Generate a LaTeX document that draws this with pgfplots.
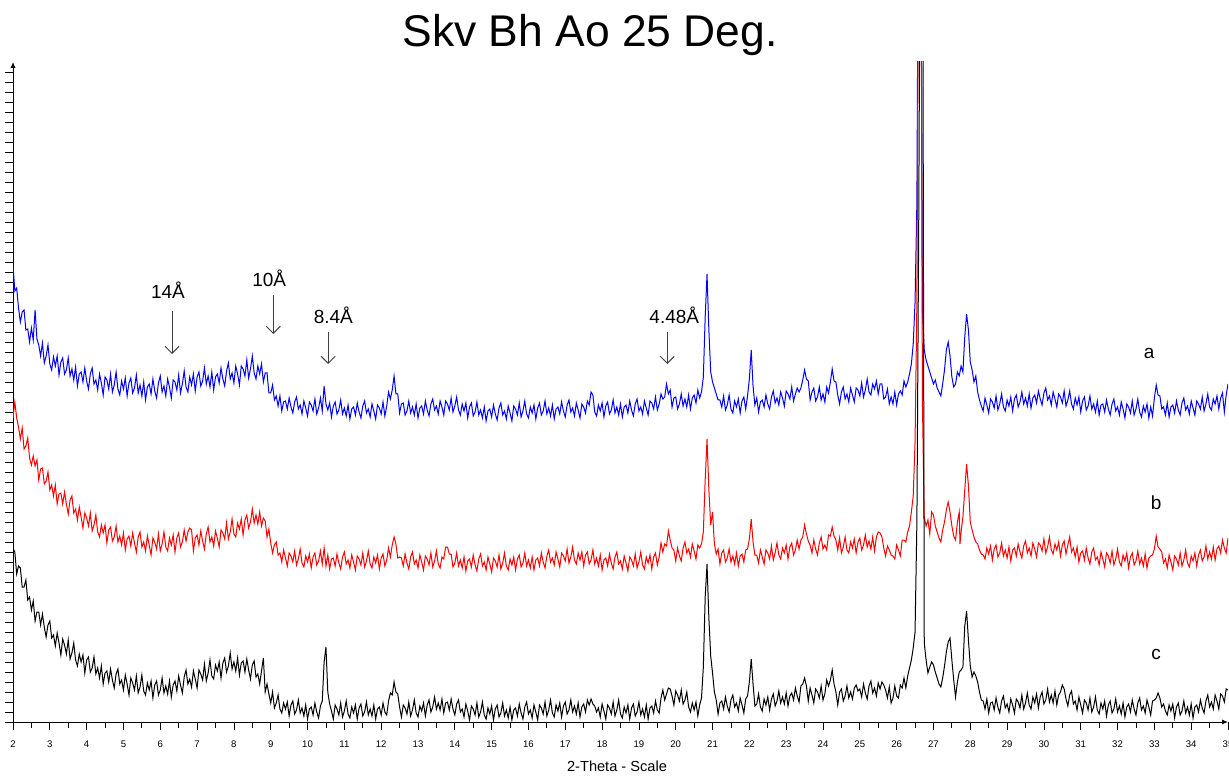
\documentclass[border=0pt]{standalone}
\usepackage{pgfplots}
\pgfplotsset{compat=1.18}
\usepackage{pgfplotstable}
\usepackage{fontspec}
\setmainfont{Liberation Sans}
\usetikzlibrary{arrows.meta}

\pgfplotstableread{
x y
2.00 457
2.05 431
2.10 434
2.15 414
2.20 400
2.25 410
2.30 412
2.35 392
2.40 393
2.45 380
2.50 394
2.55 382
2.60 412
2.65 383
2.70 377
2.75 366
2.80 379
2.85 359
2.90 366
2.95 377
3.00 358
3.05 352
3.10 365
3.15 356
3.20 366
3.25 347
3.30 360
3.35 364
3.40 348
3.45 352
3.50 364
3.55 346
3.60 353
3.65 342
3.70 355
3.75 336
3.80 348
3.85 350
3.90 340
3.95 354
4.00 341
4.05 333
4.10 348
4.15 354
4.20 338
4.25 342
4.30 332
4.35 348
4.40 339
4.45 327
4.50 345
4.55 342
4.60 333
4.65 348
4.70 330
4.75 337
4.80 350
4.85 333
4.90 327
4.95 341
5.00 333
5.05 344
5.10 326
5.15 339
5.20 344
5.25 329
5.30 334
5.35 347
5.40 329
5.45 337
5.50 326
5.55 340
5.60 322
5.65 335
5.70 338
5.75 328
5.80 343
5.85 331
5.90 324
5.95 339
6.00 346
6.05 330
6.10 336
6.15 326
6.20 343
6.25 335
6.30 324
6.35 342
6.40 340
6.45 332
6.50 347
6.55 329
6.60 338
6.65 351
6.70 335
6.75 330
6.80 345
6.85 337
6.90 348
6.95 331
7.00 345
7.05 350
7.10 336
7.15 341
7.20 354
7.25 338
7.30 346
7.35 335
7.40 350
7.45 332
7.50 345
7.55 348
7.60 339
7.65 354
7.70 343
7.75 336
7.80 351
7.85 359
7.90 343
7.95 349
8.00 339
8.05 356
8.10 348
8.15 337
8.20 356
8.25 353
8.30 346
8.35 362
8.40 344
8.45 353
8.50 366
8.55 349
8.60 343
8.65 356
8.70 348
8.75 358
8.80 340
8.85 349
8.90 349
8.95 329
9.00 329
9.05 337
9.10 322
9.15 326
9.20 316
9.25 326
9.30 311
9.35 320
9.40 321
9.45 313
9.50 324
9.55 315
9.60 309
9.65 320
9.70 325
9.75 313
9.80 317
9.85 308
9.90 321
9.95 314
10.00 306
10.05 320
10.10 317
10.15 311
10.20 323
10.25 308
10.30 314
10.35 324
10.40 311
10.45 336
10.50 318
10.55 312
10.60 319
10.65 305
10.70 316
10.75 320
10.80 308
10.85 312
10.90 322
10.95 308
11.00 314
11.05 306
11.10 317
11.15 303
11.20 313
11.25 315
11.30 307
11.35 319
11.40 310
11.45 304
11.50 316
11.55 321
11.60 309
11.65 313
11.70 305
11.75 318
11.80 311
11.85 303
11.90 317
11.95 314
12.00 308
12.05 320
12.10 306
12.15 316
12.20 330
12.25 323
12.30 332
12.35 346
12.40 328
12.45 328
12.50 309
12.55 318
12.60 319
12.65 307
12.70 311
12.75 321
12.80 309
12.85 315
12.90 307
12.95 318
13.00 304
13.05 314
13.10 316
13.15 308
13.20 321
13.25 312
13.30 306
13.35 318
13.40 323
13.45 312
13.50 316
13.55 308
13.60 321
13.65 315
13.70 307
13.75 321
13.80 318
13.85 312
13.90 324
13.95 310
14.00 316
14.05 325
14.10 312
14.15 307
14.20 318
14.25 311
14.30 319
14.35 304
14.40 315
14.45 319
14.50 306
14.55 310
14.60 320
14.65 307
14.70 312
14.75 304
14.80 315
14.85 301
14.90 311
14.95 313
15.00 305
15.05 317
15.10 308
15.15 302
15.20 314
15.25 319
15.30 307
15.35 311
15.40 303
15.45 316
15.50 309
15.55 301
15.60 316
15.65 313
15.70 307
15.75 319
15.80 305
15.85 311
15.90 321
15.95 308
16.00 304
16.05 315
16.10 309
16.15 317
16.20 303
16.25 314
16.30 319
16.35 307
16.40 311
16.45 321
16.50 308
16.55 314
16.60 306
16.65 317
16.70 303
16.75 313
16.80 315
16.85 308
16.90 320
16.95 311
17.00 305
17.05 317
17.10 322
17.15 310
17.20 314
17.25 306
17.30 319
17.35 312
17.40 304
17.45 318
17.50 315
17.55 309
17.60 321
17.65 317
17.70 330
17.75 327
17.80 310
17.85 306
17.90 317
17.95 311
18.00 319
18.05 305
18.10 316
18.15 320
18.20 308
18.25 312
18.30 322
18.35 309
18.40 315
18.45 307
18.50 318
18.55 305
18.60 315
18.65 317
18.70 309
18.75 321
18.80 312
18.85 306
18.90 318
18.95 323
19.00 311
19.05 315
19.10 308
19.15 321
19.20 314
19.25 307
19.30 321
19.35 319
19.40 313
19.45 325
19.50 312
19.55 318
19.60 328
19.65 323
19.70 325
19.75 338
19.80 328
19.85 332
19.90 315
19.95 324
20.00 325
20.05 313
20.10 318
20.15 328
20.20 316
20.25 323
20.30 315
20.35 327
20.40 313
20.45 324
20.50 327
20.55 319
20.60 332
20.65 324
20.70 330
20.75 345
20.80 405
20.85 448
20.90 392
20.95 350
21.00 340
21.05 334
21.10 328
21.15 322
21.20 322
21.25 315
21.30 326
21.35 312
21.40 317
21.45 327
21.50 313
21.55 309
21.60 321
21.65 315
21.70 323
21.75 309
21.80 321
21.85 325
21.90 313
21.95 326
22.00 343
22.05 372
22.10 336
22.15 317
22.20 324
22.25 310
22.30 320
22.35 322
22.40 315
22.45 327
22.50 318
22.55 313
22.60 325
22.65 331
22.70 319
22.75 324
22.80 317
22.85 330
22.90 324
22.95 316
23.00 331
23.05 328
23.10 323
23.15 335
23.20 321
23.25 328
23.30 334
23.35 330
23.40 334
23.45 342
23.50 352
23.55 343
23.60 341
23.65 322
23.70 330
23.75 334
23.80 321
23.85 325
23.90 335
23.95 322
24.00 328
24.05 320
24.10 335
24.15 329
24.20 340
24.25 353
24.30 341
24.35 340
24.40 327
24.45 318
24.50 330
24.55 335
24.60 323
24.65 328
24.70 320
24.75 334
24.80 327
24.85 320
24.90 334
24.95 332
25.00 326
25.05 339
25.10 325
25.15 332
25.20 343
25.25 330
25.30 327
25.35 338
25.40 333
25.45 341
25.50 328
25.55 338
25.60 338
25.65 323
25.70 325
25.75 333
25.80 318
25.85 325
25.90 318
25.95 330
26.00 317
26.05 328
26.10 331
26.15 327
26.20 341
26.25 335
26.30 340
26.35 348
26.40 358
26.45 378
26.50 420
26.55 520
26.60 900
26.65 900
26.70 410
26.75 372
26.80 362
26.85 356
26.90 350
26.95 344
27.00 338
27.05 342
27.10 334
27.15 330
27.20 326
27.25 338
27.30 352
27.35 372
27.40 380
27.45 366
27.50 345
27.55 335
27.60 338
27.65 350
27.70 346
27.75 356
27.80 350
27.85 385
27.90 408
27.95 392
28.00 360
28.05 352
28.10 340
28.15 346
28.20 330
28.25 322
28.30 316
28.35 311
28.40 324
28.45 317
28.50 309
28.55 323
28.60 320
28.65 314
28.70 326
28.75 312
28.80 318
28.85 328
28.90 315
28.95 311
29.00 322
29.05 316
29.10 325
29.15 311
29.20 323
29.25 327
29.30 315
29.35 320
29.40 330
29.45 318
29.50 324
29.55 316
29.60 328
29.65 314
29.70 324
29.75 327
29.80 319
29.85 331
29.90 323
29.95 317
30.00 329
30.05 334
30.10 322
30.15 326
30.20 317
30.25 330
30.30 323
30.35 315
30.40 328
30.45 325
30.50 319
30.55 331
30.60 316
30.65 322
30.70 331
30.75 318
30.80 313
30.85 324
30.90 317
30.95 325
31.00 310
31.05 321
31.10 325
31.15 312
31.20 316
31.25 326
31.30 313
31.35 318
31.40 310
31.45 321
31.50 307
31.55 317
31.60 318
31.65 310
31.70 322
31.75 313
31.80 307
31.85 318
31.90 323
31.95 311
32.00 315
32.05 307
32.10 320
32.15 313
32.20 304
32.25 318
32.30 315
32.35 309
32.40 321
32.45 307
32.50 313
32.55 323
32.60 310
32.65 305
32.70 316
32.75 310
32.80 318
32.85 304
32.90 315
32.95 306
33.00 324
33.05 337
33.10 327
33.15 326
33.20 313
33.25 315
33.30 307
33.35 319
33.40 305
33.45 315
33.50 317
33.55 309
33.60 321
33.65 312
33.70 307
33.75 319
33.80 324
33.85 312
33.90 316
33.95 308
34.00 321
34.05 314
34.10 307
34.15 321
34.20 318
34.25 313
34.30 325
34.35 311
34.40 318
34.45 328
34.50 315
34.55 312
34.60 323
34.65 318
34.70 326
34.75 313
34.80 324
34.85 329
34.90 310
34.95 327
35.00 338
}\tblA

\pgfplotstableread{
x y
2.00 304
2.05 320
2.10 304
2.15 295
2.20 283
2.25 294
2.30 273
2.35 276
2.40 284
2.45 264
2.50 257
2.55 266
2.60 256
2.65 262
2.70 242
2.75 253
2.80 254
2.85 238
2.90 241
2.95 250
3.00 232
3.05 237
3.10 226
3.15 237
3.20 218
3.25 228
3.30 229
3.35 218
3.40 230
3.45 218
3.50 208
3.55 222
3.60 226
3.65 209
3.70 213
3.75 202
3.80 215
3.85 205
3.90 194
3.95 209
4.00 204
4.05 196
4.10 209
4.15 191
4.20 197
4.25 207
4.30 190
4.35 185
4.40 197
4.45 189
4.50 197
4.55 179
4.60 192
4.65 195
4.70 181
4.75 185
4.80 196
4.85 180
4.90 186
4.95 177
5.00 189
5.05 172
5.10 183
5.15 186
5.20 176
5.25 189
5.30 179
5.35 170
5.40 185
5.45 190
5.50 175
5.55 180
5.60 171
5.65 186
5.70 177
5.75 167
5.80 184
5.85 180
5.90 173
5.95 188
6.00 171
6.05 178
6.10 190
6.15 175
6.20 171
6.25 184
6.30 177
6.35 187
6.40 170
6.45 184
6.50 189
6.55 175
6.60 180
6.65 192
6.70 181
6.75 190
6.80 194
6.85 192
6.90 171
6.95 184
7.00 187
7.05 177
7.10 191
7.15 181
7.20 173
7.25 188
7.30 195
7.35 180
7.40 185
7.45 176
7.50 191
7.55 184
7.60 175
7.65 192
7.70 189
7.75 183
7.80 199
7.85 183
7.90 190
7.95 203
8.00 188
8.05 185
8.10 199
8.15 193
8.20 203
8.25 187
8.30 202
8.35 207
8.40 194
8.45 200
8.50 213
8.55 199
8.60 207
8.65 198
8.70 210
8.75 196
8.80 204
8.85 201
8.90 185
8.95 193
9.00 179
9.05 169
9.10 177
9.15 180
9.20 167
9.25 169
9.30 160
9.35 172
9.40 164
9.45 156
9.50 169
9.55 166
9.60 160
9.65 171
9.70 157
9.75 163
9.80 173
9.85 159
9.90 155
9.95 166
10.00 160
10.05 168
10.10 154
10.15 165
10.20 169
10.25 157
10.30 161
10.35 171
10.40 158
10.45 174
10.50 156
10.55 167
10.60 153
10.65 163
10.70 164
10.75 156
10.80 168
10.85 159
10.90 153
10.95 165
11.00 170
11.05 158
11.10 162
11.15 154
11.20 167
11.25 160
11.30 152
11.35 166
11.40 163
11.45 157
11.50 169
11.55 155
11.60 161
11.65 171
11.70 158
11.75 154
11.80 165
11.85 159
11.90 167
11.95 153
12.00 164
12.05 168
12.10 156
12.15 162
12.20 174
12.25 165
12.30 177
12.35 185
12.40 178
12.45 164
12.50 165
12.55 164
12.60 156
12.65 168
12.70 159
12.75 153
12.80 165
12.85 170
12.90 158
12.95 162
13.00 154
13.05 167
13.10 160
13.15 152
13.20 166
13.25 163
13.30 157
13.35 169
13.40 155
13.45 161
13.50 171
13.55 158
13.60 154
13.65 165
13.70 163
13.75 175
13.80 175
13.85 168
13.90 168
13.95 155
14.00 159
14.05 169
14.10 156
14.15 162
14.20 154
14.25 165
14.30 151
14.35 161
14.40 163
14.45 155
14.50 167
14.55 157
14.60 151
14.65 163
14.70 168
14.75 156
14.80 160
14.85 152
14.90 165
14.95 158
15.00 150
15.05 164
15.10 161
15.15 155
15.20 167
15.25 153
15.30 159
15.35 169
15.40 156
15.45 152
15.50 163
15.55 157
15.60 165
15.65 152
15.70 163
15.75 167
15.80 155
15.85 159
15.90 169
15.95 156
16.00 162
16.05 154
16.10 165
16.15 152
16.20 162
16.25 164
16.30 156
16.35 169
16.40 160
16.45 154
16.50 166
16.55 172
16.60 160
16.65 164
16.70 157
16.75 170
16.80 163
16.85 155
16.90 169
16.95 166
17.00 161
17.05 173
17.10 159
17.15 165
17.20 175
17.25 162
17.30 158
17.35 169
17.40 162
17.45 170
17.50 156
17.55 167
17.60 170
17.65 158
17.70 162
17.75 172
17.80 158
17.85 164
17.90 156
17.95 167
18.00 152
18.05 162
18.10 164
18.15 156
18.20 168
18.25 159
18.30 153
18.35 165
18.40 170
18.45 158
18.50 161
18.55 153
18.60 166
18.65 159
18.70 151
18.75 165
18.80 162
18.85 156
18.90 168
18.95 154
19.00 160
19.05 170
19.10 157
19.15 153
19.20 165
19.25 159
19.30 167
19.35 153
19.40 165
19.45 169
19.50 157
19.55 165
19.60 179
19.65 170
19.70 178
19.75 176
19.80 191
19.85 182
19.90 174
19.95 172
20.00 161
20.05 174
20.10 166
20.15 161
20.20 174
20.25 180
20.30 169
20.35 173
20.40 165
20.45 178
20.50 171
20.55 163
20.60 177
20.65 174
20.70 178
20.75 190
20.80 242
20.85 283
20.90 232
20.95 197
21.00 210
21.05 178
21.10 168
21.15 173
21.20 158
21.25 169
21.30 172
21.35 160
21.40 164
21.45 173
21.50 160
21.55 166
21.60 158
21.65 169
21.70 156
21.75 166
21.80 168
21.85 160
21.90 172
21.95 173
22.00 183
22.05 203
22.10 180
22.15 167
22.20 167
22.25 159
22.30 172
22.35 165
22.40 158
22.45 172
22.50 169
22.55 163
22.60 176
22.65 162
22.70 169
22.75 179
22.80 167
22.85 163
22.90 174
22.95 169
23.00 177
23.05 163
23.10 175
23.15 179
23.20 167
23.25 172
23.30 182
23.35 173
23.40 182
23.45 185
23.50 197
23.55 188
23.60 181
23.65 177
23.70 169
23.75 182
23.80 173
23.85 167
23.90 179
23.95 185
24.00 173
24.05 177
24.10 172
24.15 187
24.20 186
24.25 195
24.30 186
24.35 182
24.40 172
24.45 184
24.50 169
24.55 175
24.60 185
24.65 172
24.70 169
24.75 180
24.80 174
24.85 183
24.90 169
24.95 180
25.00 184
25.05 172
25.10 177
25.15 187
25.20 175
25.25 181
25.30 173
25.35 185
25.40 171
25.45 185
25.50 190
25.55 189
25.60 185
25.65 174
25.70 166
25.75 176
25.80 172
25.85 167
25.90 166
25.95 163
26.00 177
26.05 172
26.10 166
26.15 182
26.20 182
26.25 180
26.30 190
26.35 196
26.40 210
26.45 226
26.50 280
26.55 420
26.60 850
26.65 950
26.70 320
26.75 205
26.80 196
26.85 202
26.90 188
26.95 210
27.00 207
27.05 196
27.10 190
27.15 184
27.20 180
27.25 192
27.30 200
27.35 212
27.40 220
27.45 210
27.50 196
27.55 186
27.60 182
27.65 200
27.70 210
27.72 178
27.75 190
27.80 205
27.85 232
27.90 258
27.95 236
28.00 200
28.05 192
28.10 185
28.15 180
28.20 178
28.25 172
28.30 168
28.35 167
28.40 163
28.45 174
28.50 168
28.55 176
28.60 162
28.65 173
28.70 177
28.75 165
28.80 169
28.85 179
28.90 166
28.95 172
29.00 164
29.05 175
29.10 161
29.15 172
29.20 174
29.25 166
29.30 178
29.35 170
29.40 164
29.45 176
29.50 181
29.55 169
29.60 174
29.65 166
29.70 179
29.75 173
29.80 165
29.85 179
29.90 177
29.95 171
30.00 183
30.05 169
30.10 175
30.15 185
30.20 172
30.25 168
30.30 178
30.35 172
30.40 180
30.45 166
30.50 177
30.55 181
30.60 168
30.65 177
30.70 185
30.75 170
30.80 174
30.85 165
30.90 175
30.95 160
31.00 169
31.05 171
31.10 162
31.15 174
31.20 164
31.25 158
31.30 170
31.35 174
31.40 162
31.45 165
31.50 157
31.55 170
31.60 163
31.65 155
31.70 169
31.75 166
31.80 159
31.85 171
31.90 157
31.95 163
32.00 173
32.05 160
32.10 156
32.15 167
32.20 161
32.25 169
32.30 154
32.35 165
32.40 169
32.45 157
32.50 161
32.55 171
32.60 158
32.65 164
32.70 156
32.75 168
32.80 154
32.85 164
32.90 166
32.95 167
33.00 173
33.05 186
33.10 175
33.15 173
33.20 170
33.25 159
33.30 163
33.35 154
33.40 167
33.45 160
33.50 152
33.55 166
33.60 163
33.65 157
33.70 169
33.75 156
33.80 162
33.85 172
33.90 159
33.95 155
34.00 166
34.05 161
34.10 169
34.15 156
34.20 167
34.25 172
34.30 161
34.35 165
34.40 176
34.45 163
34.50 170
34.55 163
34.60 175
34.65 162
34.70 173
34.75 176
34.80 169
34.85 182
34.90 174
34.95 169
35.00 184
}\tblB

\pgfplotstableread{
x y
2.00 174
2.05 170
2.10 148
2.15 156
2.20 154
2.25 135
2.30 135
2.35 142
2.40 122
2.45 125
2.50 112
2.55 121
2.60 101
2.65 110
2.70 110
2.75 97
2.80 108
2.85 95
2.90 85
2.95 97
3.00 101
3.05 84
3.10 87
3.15 76
3.20 89
3.25 79
3.30 67
3.35 83
3.40 77
3.45 68
3.50 82
3.55 63
3.60 69
3.65 79
3.70 62
3.75 56
3.80 68
3.85 60
3.90 67
3.95 49
4.00 62
4.05 65
4.10 50
4.15 54
4.20 65
4.25 48
4.30 54
4.35 44
4.40 56
4.45 38
4.50 49
4.55 51
4.60 40
4.65 53
4.70 42
4.75 34
4.80 48
4.85 53
4.90 38
4.95 42
5.00 32
5.05 47
5.10 38
5.15 27
5.20 44
5.25 39
5.30 32
5.35 46
5.40 29
5.45 35
5.50 47
5.55 31
5.60 27
5.65 39
5.70 32
5.75 41
5.80 24
5.85 37
5.90 41
5.95 27
6.00 32
6.05 44
6.10 29
6.15 36
6.20 28
6.25 41
6.30 25
6.35 37
6.40 41
6.45 31
6.50 46
6.55 37
6.60 29
6.65 45
6.70 52
6.75 38
6.80 43
6.85 35
6.90 51
6.95 43
7.00 34
7.05 52
7.10 48
7.15 42
7.20 58
7.25 41
7.30 49
7.35 62
7.40 46
7.45 43
7.50 57
7.55 51
7.60 60
7.65 44
7.70 59
7.75 64
7.80 50
7.85 56
7.90 69
7.95 53
8.00 60
8.05 51
8.10 64
8.15 47
8.20 59
8.25 61
8.30 50
8.35 63
8.40 52
8.45 43
8.50 57
8.55 61
8.60 45
8.65 48
8.70 38
8.75 51
8.80 64
8.85 30
8.90 38
8.95 28
9.00 19
9.05 30
9.10 14
9.15 19
9.20 27
9.25 13
9.30 9
9.35 19
9.40 13
9.45 20
9.50 6
9.55 17
9.60 21
9.65 8
9.70 12
9.75 22
9.80 9
9.85 14
9.90 6
9.95 17
10.00 3
10.05 13
10.10 15
10.15 7
10.20 19
10.25 10
10.30 4
10.35 16
10.40 21
10.45 60
10.50 75
10.55 30
10.60 18
10.65 11
10.70 3
10.75 17
10.80 13
10.85 7
10.90 19
10.95 5
11.00 11
11.05 21
11.10 8
11.15 4
11.20 15
11.25 9
11.30 17
11.35 3
11.40 14
11.45 18
11.50 6
11.55 10
11.60 20
11.65 7
11.70 13
11.75 6
11.80 17
11.85 3
11.90 13
11.95 15
12.00 7
12.05 19
12.10 10
12.15 7
12.20 21
12.25 29
12.30 27
12.35 40
12.40 30
12.45 28
12.50 15
12.55 5
12.60 17
12.65 14
12.70 8
12.75 20
12.80 6
12.85 12
12.90 22
12.95 9
13.00 5
13.05 16
13.10 11
13.15 19
13.20 6
13.25 17
13.30 22
13.35 10
13.40 15
13.45 25
13.50 13
13.55 19
13.60 12
13.65 23
13.70 9
13.75 19
13.80 20
13.85 12
13.90 23
13.95 13
14.00 7
14.05 18
14.10 22
14.15 10
14.20 13
14.25 5
14.30 18
14.35 11
14.40 2
14.45 16
14.50 13
14.55 7
14.60 19
14.65 5
14.70 10
14.75 20
14.80 7
14.85 3
14.90 14
14.95 8
15.00 16
15.05 2
15.10 13
15.15 17
15.20 5
15.25 9
15.30 19
15.35 6
15.40 12
15.45 4
15.50 15
15.55 2
15.60 12
15.65 14
15.70 6
15.75 18
15.80 9
15.85 3
15.90 15
15.95 20
16.00 8
16.05 12
16.10 4
16.15 17
16.20 10
16.25 2
16.30 17
16.35 14
16.40 8
16.45 20
16.50 6
16.55 12
16.60 22
16.65 9
16.70 5
16.75 17
16.80 11
16.85 19
16.90 5
16.95 16
17.00 20
17.05 8
17.10 12
17.15 22
17.20 10
17.25 16
17.30 8
17.35 19
17.40 5
17.45 15
17.50 18
17.55 10
17.60 22
17.65 17
17.70 23
17.75 18
17.80 16
17.85 10
17.90 14
17.95 5
18.00 18
18.05 11
18.10 3
18.15 17
18.20 14
18.25 8
18.30 20
18.35 6
18.40 12
18.45 22
18.50 8
18.55 4
18.60 15
18.65 9
18.70 17
18.75 3
18.80 14
18.85 18
18.90 6
18.95 10
19.00 20
19.05 7
19.10 13
19.15 5
19.20 17
19.25 3
19.30 14
19.35 16
19.40 9
19.45 21
19.50 12
19.55 9
19.60 24
19.65 32
19.70 22
19.75 28
19.80 34
19.85 33
19.90 26
19.95 17
20.00 31
20.05 27
20.10 21
20.15 32
20.20 18
20.25 22
20.30 30
20.35 15
20.40 10
20.45 19
20.50 12
20.55 20
20.60 6
20.65 17
20.70 24
20.75 55
20.80 125
20.85 158
20.90 104
20.95 66
21.00 49
21.05 30
21.10 22
21.15 8
21.20 19
21.25 21
21.30 13
21.35 25
21.40 16
21.45 10
21.50 22
21.55 27
21.60 15
21.65 19
21.70 11
21.75 24
21.80 17
21.85 9
21.90 23
21.95 26
22.00 40
22.05 63
22.10 38
22.15 16
22.20 18
22.25 28
22.30 15
22.35 11
22.40 23
22.45 17
22.50 25
22.55 12
22.60 23
22.65 28
22.70 16
22.75 21
22.80 31
22.85 19
22.90 25
22.95 18
23.00 29
23.05 16
23.10 26
23.15 29
23.20 22
23.25 34
23.30 26
23.35 20
23.40 36
23.45 38
23.50 44
23.55 36
23.60 21
23.65 34
23.70 27
23.75 19
23.80 33
23.85 30
23.90 24
23.95 36
24.00 22
24.05 28
24.10 42
24.15 36
24.20 42
24.25 52
24.30 38
24.35 30
24.40 17
24.45 30
24.50 33
24.55 21
24.60 26
24.65 36
24.70 24
24.75 30
24.80 23
24.85 34
24.90 37
24.95 31
25.00 33
25.05 25
25.10 38
25.15 29
25.20 23
25.25 36
25.30 41
25.35 29
25.40 34
25.45 26
25.50 39
25.55 33
25.60 40
25.65 37
25.70 32
25.75 24
25.80 35
25.85 19
25.90 24
25.95 36
26.00 26
26.05 24
26.10 37
26.15 34
26.20 44
26.25 34
26.30 46
26.35 54
26.40 62
26.45 74
26.50 90
26.55 200
26.60 500
26.65 900
26.70 950
26.75 79
26.80 62
26.85 49
26.90 55
26.95 60
27.00 57
27.05 50
27.10 44
27.15 38
27.20 35
27.25 44
27.30 56
27.35 70
27.40 80
27.45 84
27.50 62
27.55 42
27.60 25
27.65 40
27.70 50
27.75 52
27.80 55
27.85 96
27.90 111
27.95 82
28.00 56
28.05 45
28.10 50
28.15 46
28.20 40
28.25 30
28.30 22
28.35 21
28.40 13
28.45 23
28.50 9
28.55 19
28.60 20
28.65 12
28.70 24
28.75 15
28.80 9
28.85 21
28.90 26
28.95 14
29.00 18
29.05 10
29.10 23
29.15 17
29.20 9
29.25 23
29.30 20
29.35 14
29.40 27
29.45 13
29.50 19
29.55 29
29.60 17
29.65 13
29.70 25
29.75 19
29.80 28
29.85 14
29.90 25
29.95 30
30.00 18
30.05 22
30.10 33
30.15 20
30.20 27
30.25 19
30.30 31
30.35 17
30.40 27
30.45 30
30.50 37
30.55 33
30.60 23
30.65 16
30.70 27
30.75 31
30.80 18
30.85 21
30.90 12
30.95 25
31.00 17
31.05 9
31.10 22
31.15 19
31.20 12
31.25 24
31.30 10
31.35 15
31.40 25
31.45 12
31.50 8
31.55 19
31.60 13
31.65 21
31.70 6
31.75 17
31.80 21
31.85 9
31.90 13
31.95 23
32.00 10
32.05 16
32.10 8
32.15 19
32.20 5
32.25 15
32.30 18
32.35 10
32.40 22
32.45 13
32.50 7
32.55 19
32.60 24
32.65 12
32.70 16
32.75 9
32.80 22
32.85 15
32.90 7
32.95 21
33.00 22
33.05 24
33.10 29
33.15 24
33.20 15
33.25 18
33.30 11
33.35 7
33.40 17
33.45 11
33.50 18
33.55 4
33.60 15
33.65 19
33.70 7
33.75 11
33.80 21
33.85 9
33.90 15
33.95 7
34.00 18
34.05 4
34.10 15
34.15 17
34.20 10
34.25 22
34.30 14
34.35 9
34.40 21
34.45 27
34.50 15
34.55 20
34.60 13
34.65 27
34.70 21
34.75 13
34.80 28
34.85 26
34.90 20
34.95 33
35.00 32
}\tblC

\begin{document}
\begin{tikzpicture}
\useasboundingbox (0,0) rectangle (614.5pt,388pt);
\begin{axis}[
  at={(6.5pt,27pt)}, anchor=south west,
  scale only axis, width=607.5pt, height=330pt,
  xmin=2, xmax=35, ymin=0, ymax=660,
  axis lines*=left,
  axis line style={line width=0.5pt, -{Latex[length=3pt,width=2.6pt]}},
  xtick={2,...,35}, minor x tick num=1,
  ytick={0,10,...,650}, yticklabels={},
  tick align=outside,
  major tick length=4pt, minor tick length=3pt,
  every tick/.style={black, line width=0.4pt},
  /pgf/number format/assume math mode=true,
  xticklabel style={font=\fontsize{4.8}{5}\selectfont, yshift=-2pt},
  clip=true,
]
\addplot[blue, line width=0.5pt] table[x=x,y=y] {\tblA};
\addplot[red, line width=0.5pt] table[x=x,y=y] {\tblB};
\addplot[black, line width=0.5pt] table[x=x,y=y] {\tblC};

\begin{scope}[every node/.style={font=\fontsize{9.5}{11}\selectfont, inner sep=0pt}]
\node at (axis cs:6.21,432) {14Å};
\node at (axis cs:8.96,444) {10Å};
\node at (axis cs:10.70,407) {8.4Å};
\node at (axis cs:19.96,407) {4.48Å};
\node at (axis cs:32.86,369) {a};
\node at (axis cs:33.05,219) {b};
\node at (axis cs:33.05,68) {c};
\end{scope}
\begin{scope}[draw=black!75, line width=0.5pt, -{Straight Barb[width=7pt,length=3.5pt]}]
\draw (axis cs:6.32,411) -- (axis cs:6.32,368);
\draw (axis cs:9.07,427) -- (axis cs:9.07,388);
\draw (axis cs:10.56,390) -- (axis cs:10.56,358);
\draw (axis cs:19.77,390) -- (axis cs:19.77,358);
\end{scope}
\end{axis}
\node at (295pt,370.5pt) {\fontsize{22.2}{26}\selectfont Skv Bh Ao 25 Deg.};
\node at (308.5pt,5pt) {\fontsize{7.3}{9}\selectfont 2-Theta - Scale};
\end{tikzpicture}
\end{document}
